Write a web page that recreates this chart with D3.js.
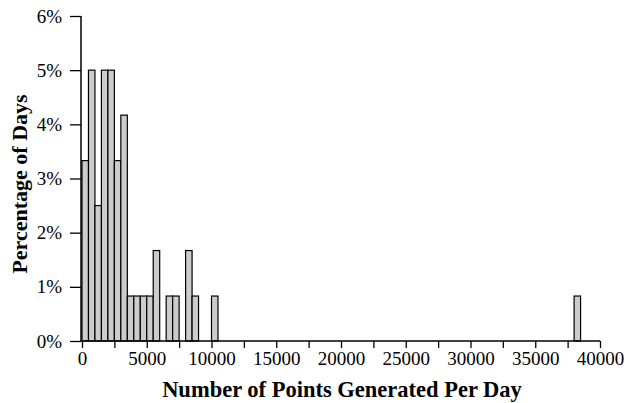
<!DOCTYPE html>
<html>
<head>
<meta charset="utf-8">
<script src="https://cdn.jsdelivr.net/npm/d3@7"></script>
<style>
  body { margin: 0; background: #fff; }
  svg text { font-family: "Liberation Serif", "Times New Roman", serif; fill: #000; }
</style>
</head>
<body>
<div id="chart"></div>
<script>
// bin start (points per day), bins are 500 wide
var binStarts = [0, 500, 1000, 1500, 2000, 2500, 3000, 3500, 4000, 4500, 5000, 5500,
                 6500, 7000, 8000, 8500, 10000, 38000];
// percentage of days
var pctValues = [3.33, 5, 2.5, 5, 5, 3.33, 4.17, 0.83, 0.83, 0.83, 0.83, 1.67,
                 0.83, 0.83, 1.67, 0.83, 0.83, 0.83];
var binWidth = 500;
var xTicks = [0, 5000, 10000, 15000, 20000, 25000, 30000, 35000, 40000];
var yTicks = [0, 1, 2, 3, 4, 5, 6];

var width = 627, height = 403;
var margin = {left: 82, right: 27, top: 16, bottom: 62};

var svg = d3.select("#chart").append("svg")
  .attr("width", width)
  .attr("height", height);

var x = d3.scaleLinear().domain([0, 40000]).range([margin.left, width - margin.right]);
var y = d3.scaleLinear().domain([0, 6]).range([height - margin.bottom, margin.top]);

// bars
svg.append("g").selectAll("rect")
  .data(binStarts)
  .enter().append("rect")
  .attr("x", function (d) { return x(d); })
  .attr("y", function (d, i) { return y(pctValues[i]); })
  .attr("width", function (d) { return x(d + binWidth) - x(d); })
  .attr("height", function (d, i) { return y(0) - y(pctValues[i]); })
  .attr("fill", "#cccccc")
  .attr("stroke", "#000")
  .attr("stroke-width", 1.2);

// x axis with minor ticks every 2500
var xAxis = svg.append("g")
  .attr("transform", "translate(0," + y(0) + ")")
  .call(d3.axisBottom(x)
    .tickValues(d3.range(0, 40001, 2500))
    .tickSize(7)
    .tickPadding(4)
    .tickFormat(function (d) { return xTicks.indexOf(d) >= 0 ? d : ""; }));
xAxis.select(".domain").attr("d", "M" + (x(0) - 1) + ",0H" + x(40000)).attr("stroke-width", 1.5);
xAxis.selectAll(".tick line").attr("stroke-width", 1.3);
xAxis.selectAll("text").attr("font-size", 19);

// y axis
var yAxis = svg.append("g")
  .attr("transform", "translate(" + (x(0) - 1) + ",0)")
  .call(d3.axisLeft(y)
    .tickValues(yTicks)
    .tickSize(11)
    .tickPadding(8)
    .tickFormat(function (d) { return d + "%"; }));
yAxis.select(".domain").attr("d", "M0," + y(0) + "V" + y(6)).attr("stroke-width", 1.5);
yAxis.selectAll(".tick line").attr("stroke-width", 1.3);
yAxis.selectAll("text").attr("font-size", 19);

// axis titles
svg.append("text")
  .attr("x", (x(0) + x(40000)) / 2 + 1)
  .attr("y", 397)
  .attr("text-anchor", "middle")
  .attr("font-size", 22.5)
  .attr("font-weight", "bold")
  .text("Number of Points Generated Per Day");

svg.append("text")
  .attr("transform", "translate(27,184) rotate(-90)")
  .attr("text-anchor", "middle")
  .attr("font-size", 22)
  .attr("font-weight", "bold")
  .text("Percentage of Days");
</script>
</body>
</html>
